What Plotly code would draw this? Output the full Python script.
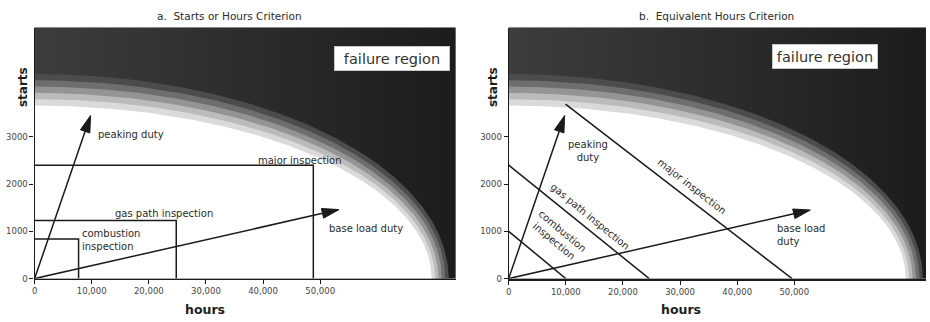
import numpy as np
import plotly.graph_objects as go

FIG_W, FIG_H = 930, 322
INK = "#1a1a1a"
FONT = "DejaVu Sans"

# ---- axis ticks -------------------------------------------------------------
hour_ticks = [0, 10000, 20000, 30000, 40000, 50000]
hour_labels = ["0", "10,000", "20,000", "30,000", "40,000", "50,000"]
start_ticks = [0, 1000, 2000, 3000]
start_labels = ["0", "1000", "2000", "3000"]

# ---- failure boundary (quarter ellipse, hours x starts) ---------------------
safe_hours = 69500     # inner (white) limit along the hours axis
safe_starts = 3660     # inner (white) limit along the starts axis
band_hours = 72500     # outer edge of the shaded transition band
band_starts = 4330
band_colors = ["#4c4c4c", "#6e6e6e", "#949494", "#bbbbbb", "#dadada"]  # outer -> inner
field_shades = [[0, "#3d3d3d"], [1, "#1c1c1c"]]  # failure field, left -> right

# ---- panel a: separate starts / hours limits per inspection -----------------
insp_hours_a = [7700, 24800, 48800]
insp_starts_a = [840, 1230, 2400]

# ---- panel b: equivalent-hours limit lines ----------------------------------
eq_from_hours = [0, 0, 9950]
eq_from_starts = [1000, 2400, 3690]
eq_to_hours = [10000, 24600, 49600]

# ---- duty vectors: [peaking, base load] tip positions -----------------------
duty_hours_a = [9800, 53300]
duty_starts_a = [3450, 1460]
duty_hours_b = [9800, 52800]
duty_starts_b = [3450, 1450]

# ---- panel placement (pixels) -----------------------------------------------
PANEL_PX = {"a": (31.7, 454.0), "b": (507.3, 926.0)}
PANEL_XMAX = {"a": 73700, "b": 73050}
PY_TOP, PY_BOT = 28.0, 283.0
Y_MAX = 5310

fig = go.Figure()


def quarter_ellipse(a, b, n=160):
    t = np.linspace(0, np.pi / 2, n)
    xs = np.concatenate([[0], a * np.cos(t), [0]])
    ys = np.concatenate([[0], b * np.sin(t), [0]])
    return xs, ys


def add_line(xs, ys, xa, ya, width=1.5):
    fig.add_trace(go.Scatter(x=xs, y=ys, mode="lines", xaxis=xa, yaxis=ya,
                             line=dict(color=INK, width=width),
                             hoverinfo="skip", showlegend=False))


def add_arrow(tip_h, tip_s, sx, sy, xa, ya, head_len=17, half_w=5):
    px, py = tip_h * sx, tip_s * sy
    d = np.hypot(px, py)
    ux, uy = px / d, py / d
    bx, by = px - head_len * ux, py - head_len * uy
    add_line([0, bx / sx], [0, by / sy], xa, ya)
    cx = [px, bx - half_w * uy, bx + half_w * uy, px]
    cy = [py, by + half_w * ux, by - half_w * ux, py]
    fig.add_trace(go.Scatter(x=[c / sx for c in cx], y=[c / sy for c in cy],
                             mode="lines", fill="toself", fillcolor=INK,
                             line=dict(color=INK, width=1), xaxis=xa, yaxis=ya,
                             hoverinfo="skip", showlegend=False))


def add_field(xa, ya, xmax):
    # dark failure field, a little darker towards long running hours
    gx = np.linspace(0, xmax, 48)
    fig.add_trace(go.Heatmap(x=gx, y=[0, Y_MAX], z=[gx / xmax, gx / xmax],
                             colorscale=field_shades, showscale=False,
                             zsmooth="best", xaxis=xa, yaxis=ya,
                             hoverinfo="skip"))
    # shaded transition bands from the dark field down to the white safe zone
    n = len(band_colors)
    for i, col in enumerate(band_colors):
        f = 1 - i / n
        a = safe_hours + (band_hours - safe_hours) * f
        b = safe_starts + (band_starts - safe_starts) * f
        xs, ys = quarter_ellipse(a, b)
        fig.add_trace(go.Scatter(x=xs, y=ys, mode="lines", fill="toself",
                                 fillcolor=col, line=dict(width=0),
                                 xaxis=xa, yaxis=ya, hoverinfo="skip",
                                 showlegend=False))
    xs, ys = quarter_ellipse(safe_hours, safe_starts)
    fig.add_trace(go.Scatter(x=xs, y=ys, mode="lines", fill="toself",
                             fillcolor="white", line=dict(width=0),
                             xaxis=xa, yaxis=ya, hoverinfo="skip",
                             showlegend=False))


def scale(key):
    x0, x1 = PANEL_PX[key]
    return (x1 - x0) / PANEL_XMAX[key], (PY_BOT - PY_TOP) / Y_MAX


# ---------------- panel a ----------------
add_field("x", "y", PANEL_XMAX["a"])
for h, s in zip(insp_hours_a, insp_starts_a):
    add_line([0, h, h], [s, s, 0], "x", "y")
sx, sy = scale("a")
for h, s in zip(duty_hours_a, duty_starts_a):
    add_arrow(h, s, sx, sy, "x", "y")

# ---------------- panel b ----------------
add_field("x2", "y2", PANEL_XMAX["b"])
for h0, s0, h1 in zip(eq_from_hours, eq_from_starts, eq_to_hours):
    add_line([h0, h1], [s0, 0], "x2", "y2")
sx2, sy2 = scale("b")
for h, s in zip(duty_hours_b, duty_starts_b):
    add_arrow(h, s, sx2, sy2, "x2", "y2")


def line_angle(h0, s0, h1, s1, sx_, sy_):
    return float(np.degrees(np.arctan2((s0 - s1) * sy_, (h1 - h0) * sx_)))


ann = []
lab = dict(family=FONT, size=10, color="#2a2a2a")

# panel a labels
ann += [
    dict(x=10700, y=3040, xref="x", yref="y", text="peaking duty",
         xanchor="left", yanchor="middle", font=lab),
    dict(x=7900, y=812, xref="x", yref="y", text="combustion<br>inspection",
         xanchor="left", yanchor="middle", align="left", font=lab),
    dict(x=22600, y=1385, xref="x", yref="y", text="gas path inspection",
         xanchor="center", yanchor="middle", font=lab),
    dict(x=46500, y=2500, xref="x", yref="y", text="major inspection",
         xanchor="center", yanchor="middle", font=lab),
    dict(x=51200, y=1062, xref="x", yref="y", text="base load duty",
         xanchor="left", yanchor="middle", font=lab),
]

# panel b labels, rotated along their limit lines
angles = [line_angle(h0, s0, h1, 0, sx2, sy2)
          for h0, s0, h1 in zip(eq_from_hours, eq_from_starts, eq_to_hours)]
ann += [
    dict(x=13900, y=2700, xref="x2", yref="y2", text="peaking<br>duty",
         xanchor="center", yanchor="middle", align="center", font=lab),
    dict(x=8670, y=902, xref="x2", yref="y2", text="combustion<br>inspection",
         xanchor="center", yanchor="middle", align="center", textangle=angles[0],
         font=lab),
    dict(x=14260, y=1318, xref="x2", yref="y2", text="gas path inspection",
         xanchor="center", yanchor="middle", textangle=angles[1], font=lab),
    dict(x=32060, y=1943, xref="x2", yref="y2", text="major inspection",
         xanchor="center", yanchor="middle", textangle=angles[2], font=lab),
    dict(x=46700, y=912, xref="x2", yref="y2", text="base load<br>duty",
         xanchor="left", yanchor="middle", align="left", font=lab),
]


def paper(px, py):
    return px / FIG_W, 1 - py / FIG_H


# titles, axis titles, failure-region boxes
for text, (px, py) in [("a.  Starts or Hours Criterion", (227, 16)),
                       ("b.  Equivalent Hours Criterion", (716, 16))]:
    x, y = paper(px, py)
    ann.append(dict(x=x, y=y, xref="paper", yref="paper", text=text,
                    xanchor="center", yanchor="middle",
                    font=dict(family=FONT, size=10.5, color="#2a2a2a")))
for px, py in [(203, 314), (680, 314)]:
    x, y = paper(px, py)
    ann.append(dict(x=x, y=y, xref="paper", yref="paper", text="<b>hours</b>",
                    xanchor="center", yanchor="middle",
                    font=dict(family=FONT, size=12.5, color="#1e1e1e")))
for px, py in [(19.5, 88), (491, 88)]:
    x, y = paper(px, py)
    ann.append(dict(x=x, y=y, xref="paper", yref="paper", text="<b>starts</b>",
                    xanchor="center", yanchor="middle", textangle=-90,
                    font=dict(family=FONT, size=12, color="#1e1e1e")))
for (px, py), w in [((390, 59.5), 110), ((825, 57.5), 100)]:
    x, y = paper(px, py)
    ann.append(dict(x=x, y=y, xref="paper", yref="paper", text="failure region",
                    xanchor="center", yanchor="middle", width=w, height=19,
                    bgcolor="white", bordercolor="#c8c8c8", borderwidth=1,
                    borderpad=2,
                    font=dict(family=FONT, size=14.5, color="#333333")))

for a_ in ann:
    a_["showarrow"] = False

tickfont = dict(family=FONT, size=8.5, color="#444444")


def xaxis(key, lw):
    x0, x1 = PANEL_PX[key]
    return dict(domain=[x0 / FIG_W, x1 / FIG_W], range=[0, PANEL_XMAX[key]],
                showgrid=False, zeroline=False, showline=True, linecolor=INK,
                linewidth=lw, ticks="outside", ticklen=4, tickcolor=INK,
                tickvals=hour_ticks, ticktext=hour_labels, tickfont=tickfont,
                fixedrange=True)


def yaxis(anchor):
    return dict(domain=[1 - PY_BOT / FIG_H, 1 - PY_TOP / FIG_H], range=[0, Y_MAX],
                anchor=anchor, showgrid=False, zeroline=False, showline=True,
                linecolor=INK, linewidth=1.3, ticks="outside", ticklen=4,
                tickcolor=INK, tickvals=start_ticks, ticktext=start_labels,
                tickfont=tickfont, fixedrange=True)


fig.update_layout(
    width=FIG_W, height=FIG_H,
    margin=dict(l=0, r=0, t=0, b=0),
    paper_bgcolor="white", plot_bgcolor="#2e2e2e",
    xaxis=dict(xaxis("a", 1.3), anchor="y"),
    yaxis=yaxis("x"),
    xaxis2=dict(xaxis("b", 2.0), anchor="y2"),
    yaxis2=yaxis("x2"),
    annotations=ann,
    showlegend=False,
    font=dict(family=FONT),
)

fig.write_html("out.html")
